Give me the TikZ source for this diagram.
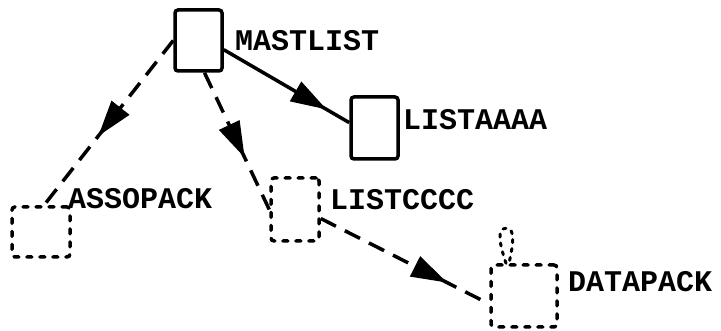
\documentclass[tikz,border=0pt]{standalone}
\usepackage{fontspec}
\newfontfamily\labfont{Liberation Mono}
\usetikzlibrary{arrows.meta,decorations.markings}
\tikzset{
  solidbox/.style={draw, line width=3.5pt, rounded corners=3pt, inner sep=0pt},
  dashbox/.style={draw, line width=3.5pt, line cap=round, dash pattern=on 5pt off 8pt, rounded corners=3pt, inner sep=0pt},
  lab/.style={anchor=west, inner sep=0pt, font=\labfont\bfseries\fontsize{30}{30}\selectfont},
  conn/.style={line width=3.5pt},
  dashconn/.style={line width=3.5pt, dash pattern=on 17pt off 10pt},
  midarrow/.style={postaction={solid, decorate, decoration={markings,
      mark=at position #1 with {\arrow{Triangle[length=36pt,width=22pt]}}}}},
  loopdash/.style={line width=3pt, line cap=round, dash pattern=on 3pt off 6pt}
}
\begin{document}
\begin{tikzpicture}[x=1pt,y=-1pt]
\useasboundingbox (0,0) rectangle (721,331);
% boxes
\node[solidbox, minimum width=47pt, minimum height=61pt] (mast) at (198.5,40.5) {};
\node[solidbox, minimum width=47pt, minimum height=62pt] (laaa) at (374.5,128) {};
\node[dashbox, minimum width=58pt, minimum height=50pt] (asso) at (41,232) {};
\node[dashbox, minimum width=48pt, minimum height=63pt] (lccc) at (295,209.5) {};
\node[dashbox, minimum width=66pt, minimum height=62pt] (dpack) at (524,296) {};
% labels
\node[lab] (tmast) at (235,41) {MASTLIST};
\node[lab] (tlaaa) at (403,120) {LISTAAAA};
\node[lab] (tasso) at (68,199) {ASSOPACK};
\node[lab] (tlccc) at (330,200) {LISTCCCC};
\node[lab] (tdpack) at (568,282) {DATAPACK};
% connectors
\draw[conn, midarrow=0.82] (mast.-20) -- (laaa.168);
\draw[dashconn, midarrow=0.58] (mast.west) -- ([xshift=3pt]asso.north);
\draw[dashconn, midarrow=0.62] ([xshift=6pt]mast.south) -- (lccc.west);
\draw[dashconn, midarrow=0.75] ([yshift=-9pt]lccc.east) -- ([yshift=-8pt]dpack.west);
% small loop above DATAPACK
\coordinate (la) at ([xshift=-18pt]dpack.north);
\coordinate (lb) at ([xshift=-15pt]dpack.north);
\coordinate (ltop) at ([xshift=-18pt,yshift=35pt]dpack.north);
\draw[loopdash] (la) .. controls +(-6,-18) and +(-10,0) .. (ltop) .. controls +(10,0) and +(4,-18) .. (lb);
\end{tikzpicture}
\end{document}
